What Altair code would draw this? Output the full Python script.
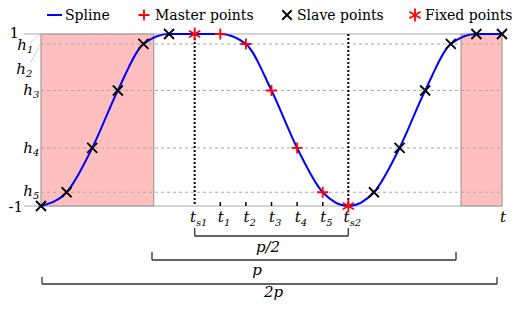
import altair as alt
import pandas as pd

# ---------------- data ----------------
legend_labels = ["Spline", "Master points", "Slave points", "Fixed points"]

t_fixed = [0, 6]
h_fixed = [1.0, -1.0]

t_master = [1, 2, 3, 4, 5]
h_master = [1.0, 0.884, 0.343, -0.325, -0.84]

t_slave = [-6, -5, -4, -3, -2, -1, 7, 8, 9, 10, 11, 12]
h_slave = [-1.0, -0.84, -0.325, 0.343, 0.884, 1.0,
           -0.84, -0.325, 0.343, 0.884, 1.0, 1.0]

grid_levels = [0.884, 0.343, -0.325, -0.84]
frame_levels = [1.0, -1.0]

shade_start = [-6, 10.4]
shade_end = [-1.6, 12]

ts_ticks = [0, 6]
ts_subs = ["s1", "s2"]
ti_ticks = [1, 2, 3, 4, 5]
ti_subs = ["1", "2", "3", "4", "5"]

y_end_labels = ["1", "-1"]
h_subs = ["1", "2", "3", "4", "5"]
bracket_labels = ["p/2", "p", "2p"]
axis_label = "t"

# ---------------- layout helpers ----------------
W, H = 461, 172
X0, Y0 = 41, 34          # page position of plot origin


def px(x):
    return x - X0


def py(y):
    return y - Y0


FONT = "DejaVu Serif"
xs = alt.Scale(domain=[-6, 12], nice=False, zero=False)
ys = alt.Scale(domain=[-1, 1], nice=False, zero=False)
X = alt.X("t:Q", scale=xs, axis=None)
Y = alt.Y("v:Q", scale=ys, axis=None)

PLUS = "M-1,0L1,0M0,-1L0,1"
CROSS = "M-1,-1L1,1M-1,1L1,-1"
STAR = "M0,-1L0,1M-0.866,-0.5L0.866,0.5M-0.866,0.5L0.866,-0.5"

one = pd.DataFrame({"a": [0]})

df_master = pd.DataFrame({"t": t_master, "v": h_master})
df_fixed = pd.DataFrame({"t": t_fixed, "v": h_fixed})
df_slave = pd.DataFrame({"t": t_slave, "v": h_slave})
df_spline = pd.concat([df_slave, df_master, df_fixed]).sort_values("t")

layers = []

# shaded regions
layers.append(
    alt.Chart(pd.DataFrame({"a": shade_start, "b": shade_end}))
    .mark_rect(fill="#ffbfbf", stroke="#ab9a9a", strokeWidth=1.2)
    .encode(x=alt.X("a:Q", scale=xs, axis=None), x2="b:Q",
            y=alt.value(0), y2=alt.value(H))
)

# dashed grid lines
layers.append(
    alt.Chart(pd.DataFrame({"v": grid_levels}))
    .mark_rule(color="#a8a8a8", strokeDash=[3, 3], strokeWidth=1)
    .encode(y=Y, x=alt.value(0), x2=alt.value(W))
)
# top / bottom frame lines
layers.append(
    alt.Chart(pd.DataFrame({"v": frame_levels}))
    .mark_rule(color="#a8a8a8", strokeWidth=1.2)
    .encode(y=Y, x=alt.value(px(24)), x2=alt.value(W))
)
# leader lines for h1, h2
for (xa, ya, xb, yb) in [(31, 42, 40, 35), (31, 62, 40, 45)]:
    layers.append(
        alt.Chart(one).mark_rule(color="#b0b0b0", strokeDash=[1.5, 1.5], strokeWidth=1)
        .encode(x=alt.value(px(xa)), y=alt.value(py(ya)),
                x2=alt.value(px(xb)), y2=alt.value(py(yb)))
    )

# vertical dotted lines at ts1, ts2
layers.append(
    alt.Chart(pd.DataFrame({"t": ts_ticks}))
    .mark_rule(color="black", strokeDash=[2, 2], strokeWidth=2)
    .encode(x=X, y=alt.value(0), y2=alt.value(H))
)
# small ticks at t1..t5
layers.append(
    alt.Chart(pd.DataFrame({"t": ti_ticks}))
    .mark_rule(color="black", strokeWidth=1.5)
    .encode(x=X, y=alt.value(H - 4), y2=alt.value(H))
)

# spline
layers.append(
    alt.Chart(df_spline)
    .mark_line(color="#0000ff", strokeWidth=2, interpolate="monotone")
    .encode(x=X, y=Y)
)

# points
layers.append(
    alt.Chart(df_slave).mark_point(shape=CROSS, size=100, filled=False,
                                   color="black", strokeWidth=1.8, opacity=1)
    .encode(x=X, y=Y)
)
layers.append(
    alt.Chart(df_master).mark_point(shape=PLUS, size=121, filled=False,
                                    color="#ff0000", strokeWidth=1.8, opacity=1)
    .encode(x=X, y=Y)
)
layers.append(
    alt.Chart(df_fixed).mark_point(shape=STAR, size=169, filled=False,
                                   color="#ff0000", strokeWidth=1.8, opacity=1)
    .encode(x=X, y=Y)
)

# x tick labels (t with subscripts)
for ticks, subs, dx in [(ts_ticks, ts_subs, 1.3), (ti_ticks, ti_subs, 3.6)]:
    d = pd.DataFrame({"t": ticks, "s": subs})
    layers.append(
        alt.Chart(d).mark_text(text="t", font=FONT, fontStyle="italic", fontSize=15,
                               align="right", baseline="alphabetic", dx=dx)
        .encode(x=X, y=alt.value(py(222)))
    )
    layers.append(
        alt.Chart(d).mark_text(font=FONT, fontStyle="italic", fontSize=10,
                               align="left", baseline="alphabetic", dx=dx)
        .encode(x=X, y=alt.value(py(226)), text="s:N")
    )
# axis label t
layers.append(
    alt.Chart(one).mark_text(text=axis_label, font=FONT, fontStyle="italic", fontSize=15,
                             align="center", baseline="alphabetic")
    .encode(x=alt.value(px(503)), y=alt.value(py(222)))
)

# y labels
for lab, xr, ybase in zip(y_end_labels, [19, 23], [38, 212]):
    layers.append(
        alt.Chart(one).mark_text(text=lab, font=FONT, fontSize=15, align="right",
                                 baseline="alphabetic")
        .encode(x=alt.value(px(xr)), y=alt.value(py(ybase)))
    )
h_pos = [(27, 50), (26, 74), (33, 95), (33, 153), (33, 196)]
for sub, (xr, yb) in zip(h_subs, h_pos):
    layers.append(
        alt.Chart(one).mark_text(text="h", font=FONT, fontStyle="italic", fontSize=15,
                                 align="right", baseline="alphabetic")
        .encode(x=alt.value(px(xr)), y=alt.value(py(yb)))
    )
    layers.append(
        alt.Chart(one).mark_text(text=sub, font=FONT, fontStyle="italic", fontSize=10,
                                 align="left", baseline="alphabetic")
        .encode(x=alt.value(px(xr)), y=alt.value(py(yb + 3)))
    )

# brackets
brackets = [
    # x_left, x_right, y_line, y_top, label_x, label_baseline
    (194.7, 348.3, 236, 228, 268, 252),
    (152, 456, 260, 252, 257, 275),
    (42, 497, 284, 277, 273.5, 297),
]
for lab, (xl, xr, yl, yt, lx, lb) in zip(bracket_labels, brackets):
    layers.append(
        alt.Chart(one).mark_rule(color="#333333", strokeWidth=1.3)
        .encode(x=alt.value(px(xl)), x2=alt.value(px(xr)), y=alt.value(py(yl)))
    )
    for xe in (xl, xr):
        layers.append(
            alt.Chart(one).mark_rule(color="#333333", strokeWidth=1.3)
            .encode(x=alt.value(px(xe)), y=alt.value(py(yt)), y2=alt.value(py(yl)))
        )
    layers.append(
        alt.Chart(one).mark_text(text=lab, font=FONT, fontStyle="italic", fontSize=15,
                                 align="center", baseline="alphabetic")
        .encode(x=alt.value(px(lx)), y=alt.value(py(lb)))
    )

# legend
LY = 15
layers.append(
    alt.Chart(one).mark_rule(color="#0000ff", strokeWidth=2)
    .encode(x=alt.value(px(47)), x2=alt.value(px(62)), y=alt.value(py(LY)))
)
for shape, size, col, cx in [(PLUS, 121, "#ff0000", 144), (CROSS, 90, "black", 287),
                             (STAR, 169, "#ff0000", 415)]:
    layers.append(
        alt.Chart(one).mark_point(shape=shape, size=size, filled=False, color=col,
                                  strokeWidth=1.8, opacity=1)
        .encode(x=alt.value(px(cx)), y=alt.value(py(LY)))
    )
for lab, tx in zip(legend_labels, [65, 155, 297, 425]):
    layers.append(
        alt.Chart(one).mark_text(text=lab, font=FONT, fontSize=14, align="left",
                                 baseline="alphabetic")
        .encode(x=alt.value(px(tx)), y=alt.value(py(20)))
    )

chart = alt.layer(*layers).properties(
    width=W, height=H,
    autosize=alt.AutoSizeParams(type="none"),
    padding={"left": X0 - 8, "top": Y0 - 8, "right": 513 - (X0 - 8) - W,
             "bottom": 294 - (Y0 - 8) - H},
).configure_view(stroke=None)

chart.save("out.html", embed_options={"renderer": "svg", "actions": False})
